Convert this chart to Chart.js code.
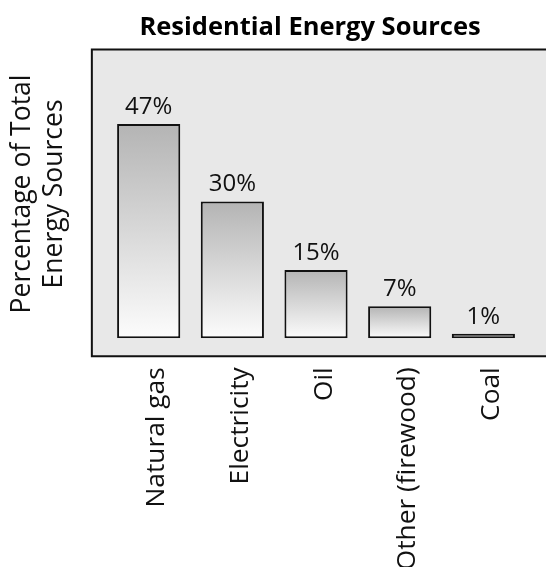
<!DOCTYPE html>
<html>
<head>
<meta charset="utf-8">
<script src="https://cdn.jsdelivr.net/npm/chart.js@4/dist/chart.umd.min.js"></script>
<style>
  html, body { margin: 0; padding: 0; background: #fff; }
  #wrap { width: 546px; height: 567px; position: relative; }
</style>
</head>
<body>
<div id="wrap"><canvas id="chart"></canvas></div>
<script>
// Share of residential energy by source (percent)
const categories = ['Natural gas', 'Electricity', 'Oil', 'Other (firewood)', 'Coal'];
const shares = [47, 30, 15, 7, 1];
const chartTitle = 'Residential Energy Sources';
const yTitle = ['Percentage of Total', 'Energy Sources'];

Chart.defaults.font.family = "'Open Sans', 'Noto Sans', sans-serif";
Chart.defaults.color = '#111';

// Grey panel behind the bars, extending a little past the plotting area
const panel = {
  id: 'panel',
  beforeDraw(chart) {
    const { ctx, chartArea, width } = chart;
    const left = chartArea.left - 15;
    const top = chartArea.top;
    const bottom = chartArea.bottom + 18;
    ctx.save();
    ctx.fillStyle = '#e8e8e8';
    ctx.fillRect(left, top, width - left + 5, bottom - top);
    ctx.strokeStyle = '#111';
    ctx.lineWidth = 2;
    ctx.beginPath();
    ctx.moveTo(width + 5, top);
    ctx.lineTo(left, top);
    ctx.lineTo(left, bottom);
    ctx.lineTo(width + 5, bottom);
    ctx.stroke();
    ctx.restore();
  }
};

// Percent labels above each bar
const valueLabels = {
  id: 'valueLabels',
  afterDatasetsDraw(chart) {
    const { ctx } = chart;
    const meta = chart.getDatasetMeta(0);
    ctx.save();
    ctx.font = "24px 'Open Sans', 'Noto Sans', sans-serif";
    ctx.fillStyle = '#111';
    ctx.textAlign = 'center';
    ctx.textBaseline = 'alphabetic';
    meta.data.forEach((bar, i) => {
      ctx.fillText(chart.data.datasets[0].data[i] + '%', bar.x, bar.y - 10);
    });
    ctx.restore();
  }
};

// Nudge the chart title slightly left of the plot centre
const titleShift = {
  id: 'titleShift',
  afterLayout(chart) {
    const t = chart.titleBlock;
    if (t) { t.left -= 6; t.right -= 6; }
  }
};

function barGradient(context) {
  const chart = context.chart;
  if (!chart.chartArea) return '#cccccc';
  const y = chart.scales.y;
  const top = y.getPixelForValue(context.raw);
  const base = y.getPixelForValue(0);
  const g = chart.ctx.createLinearGradient(0, top, 0, base);
  g.addColorStop(0, '#b4b4b4');
  g.addColorStop(1, '#fcfcfc');
  return g;
}

new Chart(document.getElementById('chart'), {
  type: 'bar',
  data: {
    labels: categories,
    datasets: [{
      data: shares,
      backgroundColor: barGradient,
      borderColor: '#111',
      borderWidth: 2,
      borderSkipped: false,
      barPercentage: 0.755,
      categoryPercentage: 1
    }]
  },
  options: {
    responsive: true,
    maintainAspectRatio: false,
    animation: false,
    layout: { padding: { left: 0, right: 12.65, top: 0, bottom: 0 } },
    plugins: {
      legend: { display: false },
      tooltip: { enabled: false },
      title: {
        display: true,
        text: chartTitle,
        fullSize: false,
        color: '#000',
        font: { size: 25.5, weight: 'bold' },
        padding: { top: 12, bottom: 7 }
      }
    },
    scales: {
      x: {
        grid: { display: false, drawTicks: false },
        border: { display: false },
        ticks: {
          autoSkip: false,
          minRotation: 90,
          maxRotation: 90,
          padding: 29,
          labelOffset: 8,
          color: '#111',
          font: { size: 26.3 }
        },
        afterFit(scale) { scale.height = 228.7; }
      },
      y: {
        min: 0,
        max: 63.3,
        grid: { display: false, drawTicks: false },
        border: { display: false },
        ticks: { display: false },
        title: {
          display: true,
          text: yTitle,
          color: '#111',
          font: { size: 26.5, lineHeight: 1.22 },
          padding: { top: 6, bottom: 0 }
        },
        afterFit(scale) { scale.width = 106.85; }
      }
    }
  },
  plugins: [panel, valueLabels, titleShift]
});
</script>
</body>
</html>
